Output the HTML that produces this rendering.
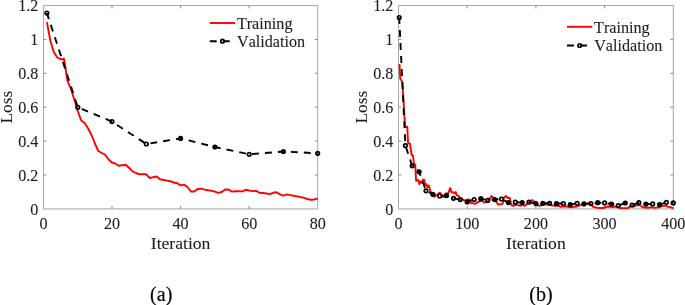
<!DOCTYPE html>
<html lang="en"><head><meta charset="utf-8"><title>Training and validation loss</title>
<style>
html,body{margin:0;padding:0;background:#fff;}
body{width:685px;height:305px;overflow:hidden;}
svg{display:block;}
text{font-family:"Liberation Serif","Times New Roman",Times,serif;fill:#1e1e1e;font-kerning:none;stroke:#1e1e1e;stroke-width:0.1;}
.tk{font-size:16.1px;}
.lb{font-size:17.6px;}
.lg{font-size:16.15px;}
.cap{font-size:20px;fill:#000;stroke:#000;stroke-width:0.15;}
.ax{stroke:#a8a8a8;stroke-width:1;fill:none;shape-rendering:auto;}
.red{stroke:#ff0000;stroke-width:1.9;fill:none;stroke-linejoin:round;stroke-linecap:butt;}
.val{stroke:#000;stroke-width:1.9;fill:none;stroke-dasharray:6.9 6.14;stroke-dashoffset:0.5;stroke-linejoin:round;}
.mk{stroke:#000;stroke-width:1.7;fill:none;}
.f{fill:#000;}
</style></head><body>
<svg width="685" height="305" viewBox="0 0 685 305">
<rect x="0" y="0" width="685" height="305" fill="#ffffff"/>
<g>
<rect class="ax" x="43.5" y="5.5" width="274.2" height="203.4"/>
<path d="M43.0 209.35H318.2" stroke="#d4d4d4" stroke-width="0.8" fill="none"/>
<path class="ax" style="stroke:#8c8c8c" d="M112.0 208.9v-2.9M112.0 5.5v2.9M180.6 208.9v-2.9M180.6 5.5v2.9M249.2 208.9v-2.9M249.2 5.5v2.9M43.5 175.0h2.9M317.7 175.0h-2.9M43.5 141.1h2.9M317.7 141.1h-2.9M43.5 107.2h2.9M317.7 107.2h-2.9M43.5 73.3h2.9M317.7 73.3h-2.9M43.5 39.4h2.9M317.7 39.4h-2.9"/>
<text class="tk" x="43.5" y="229.0" text-anchor="middle">0</text>
<text class="tk" x="112.0" y="229.0" text-anchor="middle">20</text>
<text class="tk" x="180.6" y="229.0" text-anchor="middle">40</text>
<text class="tk" x="249.2" y="229.0" text-anchor="middle">60</text>
<text class="tk" x="317.7" y="229.0" text-anchor="middle">80</text>
<text class="tk" x="38.4" y="214.7" text-anchor="end">0</text>
<text class="tk" x="38.4" y="180.8" text-anchor="end">0.2</text>
<text class="tk" x="38.4" y="146.9" text-anchor="end">0.4</text>
<text class="tk" x="38.4" y="113.0" text-anchor="end">0.6</text>
<text class="tk" x="38.4" y="79.1" text-anchor="end">0.8</text>
<text class="tk" x="38.4" y="45.2" text-anchor="end">1</text>
<text class="tk" x="38.4" y="11.3" text-anchor="end">1.2</text>
<text class="lb" x="180.6" y="248.6" text-anchor="middle">Iteration</text>
<text class="lb" style="font-size:17.3px" transform="translate(12.4,107.2) rotate(-90)" text-anchor="middle">Loss</text>
<polyline class="red" points="46.9,22.2 50.4,41.0 53.8,52.0 57.2,57.5 60.6,59.2 64.1,59.0 67.5,81.0 70.9,89.0 74.3,99.5 77.8,111.0 81.2,120.5 84.6,123.0 88.1,128.5 91.5,135.0 94.9,143.5 98.3,151.0 101.8,153.0 105.2,154.7 108.6,159.5 112.0,162.5 115.5,163.7 118.9,165.8 122.3,165.3 125.8,164.8 129.2,168.0 132.6,171.4 136.0,173.0 139.5,174.3 142.9,174.3 146.3,174.3 149.8,178.0 153.2,177.2 156.6,176.5 160.0,179.3 163.5,180.0 166.9,180.6 170.3,181.2 173.7,182.5 177.2,183.2 180.6,185.4 184.0,184.6 187.5,187.0 190.9,191.5 194.3,191.5 197.7,189.0 201.2,188.7 204.6,189.6 208.0,190.2 211.4,190.7 214.9,191.7 218.3,192.8 221.7,192.0 225.2,189.5 228.6,189.5 232.0,191.6 235.4,191.3 238.9,191.1 242.3,191.5 245.7,189.8 249.2,190.5 252.6,191.1 256.0,190.7 259.4,192.8 262.9,193.0 266.3,193.5 269.7,194.1 273.1,192.8 276.6,192.3 280.0,194.4 283.4,195.6 286.9,194.4 290.3,195.1 293.7,195.8 297.1,196.4 300.6,197.1 304.0,197.8 307.4,199.0 310.8,199.7 314.3,199.5 317.7,198.4"/>
<polyline class="val" style="stroke-dasharray:6.9 6.09" points="46.9,13.0 77.8,107.3 112.0,121.6 146.3,144.0 180.6,138.4 214.9,147.0 249.2,154.3 283.4,151.5 317.7,153.3"/>
<circle class="mk" cx="46.9" cy="13.0" r="1.75"/>
<circle class="mk" cx="77.8" cy="107.3" r="1.75"/>
<circle class="mk" cx="112.0" cy="121.6" r="1.75"/>
<circle class="mk" cx="146.3" cy="144.0" r="1.75"/>
<circle class="mk f" cx="180.6" cy="138.4" r="1.75"/>
<circle class="mk f" cx="214.9" cy="147.0" r="1.75"/>
<circle class="mk" cx="249.2" cy="154.3" r="1.75"/>
<circle class="mk f" cx="283.4" cy="151.5" r="1.75"/>
<circle class="mk" cx="317.7" cy="153.3" r="1.75"/>
<line class="red" x1="209.8" y1="23.0" x2="235.2" y2="23.0"/>
<text class="lg" x="236.9" y="29.1">Training</text>
<line class="val" style="stroke-dashoffset:0" x1="209.8" y1="41.2" x2="231.3" y2="41.2"/>
<circle class="mk" cx="222.5" cy="41.2" r="1.75"/>
<text class="lg" x="237.0" y="46.7">Validation</text>
<text class="cap" x="161.2" y="300.5" text-anchor="middle">(a)</text>
</g>
<g>
<rect class="ax" x="398.5" y="5.5" width="274.8" height="203.4"/>
<path d="M398.0 209.35H673.8" stroke="#d4d4d4" stroke-width="0.8" fill="none"/>
<path class="ax" style="stroke:#8c8c8c" d="M467.2 208.9v-2.9M467.2 5.5v2.9M535.9 208.9v-2.9M535.9 5.5v2.9M604.6 208.9v-2.9M604.6 5.5v2.9M398.5 175.0h2.9M673.3 175.0h-2.9M398.5 141.1h2.9M673.3 141.1h-2.9M398.5 107.2h2.9M673.3 107.2h-2.9M398.5 73.3h2.9M673.3 73.3h-2.9M398.5 39.4h2.9M673.3 39.4h-2.9"/>
<text class="tk" x="398.5" y="229.0" text-anchor="middle">0</text>
<text class="tk" x="467.2" y="229.0" text-anchor="middle">100</text>
<text class="tk" x="535.9" y="229.0" text-anchor="middle">200</text>
<text class="tk" x="604.6" y="229.0" text-anchor="middle">300</text>
<text class="tk" x="673.3" y="229.0" text-anchor="middle">400</text>
<text class="tk" x="393.4" y="214.7" text-anchor="end">0</text>
<text class="tk" x="393.4" y="180.8" text-anchor="end">0.2</text>
<text class="tk" x="393.4" y="146.9" text-anchor="end">0.4</text>
<text class="tk" x="393.4" y="113.0" text-anchor="end">0.6</text>
<text class="tk" x="393.4" y="79.1" text-anchor="end">0.8</text>
<text class="tk" x="393.4" y="45.2" text-anchor="end">1</text>
<text class="tk" x="393.4" y="11.3" text-anchor="end">1.2</text>
<text class="lb" x="535.9" y="248.6" text-anchor="middle">Iteration</text>
<text class="lb" style="font-size:17.3px" transform="translate(367.4,107.2) rotate(-90)" text-anchor="middle">Loss</text>
<polyline class="red" points="399.5,64.0 400.0,74.0 400.3,79.0 401.9,81.0 402.5,83.5 403.2,96.0 404.2,112.0 404.8,122.0 405.3,127.0 407.3,126.8 407.5,132.0 408.1,143.2 410.0,143.6 410.6,149.0 411.7,155.0 412.9,155.3 414.0,163.8 415.2,164.6 416.1,180.7 416.7,180.9 417.6,180.0 418.7,180.3 419.3,184.2 420.6,181.6 421.9,182.9 422.9,179.6 424.2,179.6 425.2,184.9 426.5,184.2 427.5,187.5 428.8,185.5 430.5,191.4 432.5,196.0 434.4,196.7 437.0,194.7 439.7,192.7 441.6,194.7 443.6,197.3 445.6,193.4 448.2,193.4 450.2,188.1 451.8,192.7 453.5,192.1 454.8,193.4 455.7,192.1 456.8,195.4 458.7,196.0 460.0,198.0 462.7,199.3 464.6,200.6 469.2,199.3 471.2,203.3 473.8,203.3 475.2,203.9 477.8,202.0 481.6,200.6 484.2,202.6 487.5,201.9 489.5,199.3 491.4,196.0 493.4,198.0 496.0,200.6 498.0,204.6 502.6,203.9 503.9,198.0 505.9,196.0 507.9,198.0 509.8,198.0 511.1,204.6 513.1,205.9 517.0,204.6 520.3,205.9 522.3,204.6 524.9,205.9 527.6,203.3 529.5,201.9 532.2,200.0 534.8,201.9 536.8,204.6 539.4,205.9 543.3,204.6 546.6,204.6 548.6,203.6 551.2,205.2 555.2,205.9 559.1,205.5 560.3,206.9 565.5,206.3 570.8,207.2 576.0,206.5 579.3,205.5 581.3,204.6 586.5,203.6 589.8,203.3 592.5,206.5 597.0,207.9 602.9,208.0 608.1,206.5 612.8,207.0 616.0,206.5 620.0,208.1 627.9,208.1 630.5,206.3 634.4,206.3 637.0,205.0 640.3,205.2 642.3,207.2 647.6,207.9 651.5,207.2 654.1,207.9 659.4,207.2 663.3,205.9 666.0,205.5 667.9,206.9 670.6,207.2 673.4,208.5"/>
<polyline class="val" style="stroke-dasharray:6.9 6.14" points="399.2,17.5 405.4,145.6 412.2,165.8 419.1,171.8 426.0,190.8 432.9,194.3 439.7,196.0 446.6,195.6 453.5,198.3 460.3,199.6 467.2,201.9 474.1,199.5 480.9,198.7 487.8,200.4 494.7,199.6 501.5,199.0 508.4,202.6 515.3,202.2 522.2,202.6 529.0,202.2 535.9,203.6 542.8,203.3 549.6,203.3 556.5,203.6 563.4,203.5 570.2,204.6 577.1,203.3 584.0,203.9 590.9,203.5 597.7,202.7 604.6,202.9 611.5,204.0 618.3,205.6 625.2,203.0 632.1,205.0 638.9,202.6 645.8,204.2 652.7,203.9 659.6,204.6 666.4,202.3 673.3,202.9"/>
<circle class="mk" cx="399.2" cy="17.5" r="1.75"/>
<circle class="mk" cx="405.4" cy="145.6" r="1.75"/>
<circle class="mk" cx="412.2" cy="165.8" r="1.75"/>
<circle class="mk f" cx="419.1" cy="171.8" r="1.75"/>
<circle class="mk" cx="426.0" cy="190.8" r="1.75"/>
<circle class="mk f" cx="432.9" cy="194.3" r="1.75"/>
<circle class="mk" cx="439.7" cy="196.0" r="1.75"/>
<circle class="mk f" cx="446.6" cy="195.6" r="1.75"/>
<circle class="mk" cx="453.5" cy="198.3" r="1.75"/>
<circle class="mk" cx="460.3" cy="199.6" r="1.75"/>
<circle class="mk f" cx="467.2" cy="201.9" r="1.75"/>
<circle class="mk" cx="474.1" cy="199.5" r="1.75"/>
<circle class="mk f" cx="480.9" cy="198.7" r="1.75"/>
<circle class="mk" cx="487.8" cy="200.4" r="1.75"/>
<circle class="mk f" cx="494.7" cy="199.6" r="1.75"/>
<circle class="mk" cx="501.5" cy="199.0" r="1.75"/>
<circle class="mk f" cx="508.4" cy="202.6" r="1.75"/>
<circle class="mk" cx="515.3" cy="202.2" r="1.75"/>
<circle class="mk f" cx="522.2" cy="202.6" r="1.75"/>
<circle class="mk" cx="529.0" cy="202.2" r="1.75"/>
<circle class="mk" cx="535.9" cy="203.6" r="1.75"/>
<circle class="mk f" cx="542.8" cy="203.3" r="1.75"/>
<circle class="mk" cx="549.6" cy="203.3" r="1.75"/>
<circle class="mk f" cx="556.5" cy="203.6" r="1.75"/>
<circle class="mk" cx="563.4" cy="203.5" r="1.75"/>
<circle class="mk f" cx="570.2" cy="204.6" r="1.75"/>
<circle class="mk" cx="577.1" cy="203.3" r="1.75"/>
<circle class="mk f" cx="584.0" cy="203.9" r="1.75"/>
<circle class="mk" cx="590.9" cy="203.5" r="1.75"/>
<circle class="mk f" cx="597.7" cy="202.7" r="1.75"/>
<circle class="mk" cx="604.6" cy="202.9" r="1.75"/>
<circle class="mk f" cx="611.5" cy="204.0" r="1.75"/>
<circle class="mk" cx="618.3" cy="205.6" r="1.75"/>
<circle class="mk f" cx="625.2" cy="203.0" r="1.75"/>
<circle class="mk" cx="632.1" cy="205.0" r="1.75"/>
<circle class="mk" cx="638.9" cy="202.6" r="1.75"/>
<circle class="mk f" cx="645.8" cy="204.2" r="1.75"/>
<circle class="mk" cx="652.7" cy="203.9" r="1.75"/>
<circle class="mk f" cx="659.6" cy="204.6" r="1.75"/>
<circle class="mk" cx="666.4" cy="202.3" r="1.75"/>
<circle class="mk" cx="673.3" cy="202.9" r="1.75"/>
<line class="red" x1="567.0" y1="26.8" x2="592.4" y2="26.8"/>
<text class="lg" x="594.1" y="33.3">Training</text>
<line class="val" style="stroke-dashoffset:0" x1="567.0" y1="45.5" x2="588.5" y2="45.5"/>
<circle class="mk" cx="579.7" cy="45.5" r="1.75"/>
<text class="lg" x="594.2" y="51.3">Validation</text>
<text class="cap" x="540.9" y="300.5" text-anchor="middle">(b)</text>
</g>
</svg></body></html>
